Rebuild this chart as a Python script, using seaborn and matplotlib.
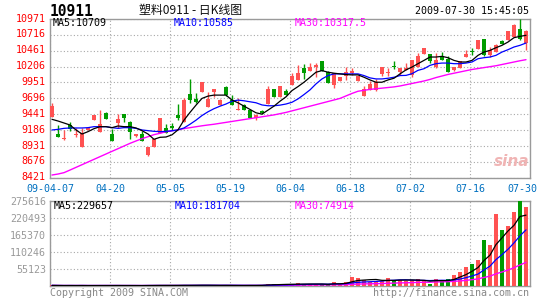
import numpy as np
import pandas as pd
import matplotlib
matplotlib.use("Agg")
import matplotlib.pyplot as plt
import matplotlib.transforms as mtransforms
import seaborn as sns

sns.set_style("white")
plt.rcParams['font.family'] = ['DejaVu Sans Mono', 'DejaVu Sans']

# ---------------- data ----------------
date_labels = ["09-04-07", "04-20", "05-05", "05-19", "06-04", "06-18", "07-02", "07-16", "07-30"]
date_index = [0, 9, 19, 29, 39, 49, 59, 69, 79]

open_ = [9391, 9123, 9048, 9263, 9110, 8909, 9188, 9348, 9161, 9456,
         9123, 9295, 9445, 9316, 9091, 9123, 8786, 8909, 9145, 9220,
         9255, 9432, 9319, 9764, 9684, 9802, 9561, 9796, 9582, 9871,
         9668, 9507, 9587, 9507, 9373, 9485, 9603, 9845, 9711, 9818,
         9917, 9998, 10185, 10142, 10196, 10303, 10116, 9917, 9982, 10062,
         10105, 9982, 9740, 9832, 9832, 10089, 10100, 10210, 10116, 10150,
         10065, 10199, 10414, 10403, 10199, 10371, 10333, 10156, 10188, 10360,
         10440, 10494, 10644, 10387, 10440, 10617, 10639, 10682, 10816, 10585]
high = [9628, 9268, 9188, 9316, 9214, 9214, 9225, 9429, 9509, 9482,
        9198, 9445, 9445, 9340, 9123, 9177, 8909, 9038, 9381, 9284,
        9293, 9603, 9694, 10000, 9786, 9957, 9802, 9839, 9690, 9893,
        9748, 9695, 9598, 9507, 9443, 9507, 9893, 9845, 9893, 9839,
        10100, 10239, 10250, 10266, 10266, 10303, 10142, 10100, 10046, 10196,
        10185, 10051, 9901, 9982, 10008, 10196, 10185, 10292, 10185, 10271,
        10306, 10420, 10510, 10403, 10424, 10440, 10371, 10199, 10296, 10467,
        10510, 10639, 10655, 10521, 10574, 10639, 10778, 10896, 10971, 10790]
low = [9391, 9080, 9027, 9177, 9070, 8909, 9188, 9348, 9161, 9370,
       9016, 9214, 9322, 9038, 9070, 9016, 8775, 8909, 9145, 9134,
       9185, 9346, 9319, 9625, 9614, 9802, 9561, 9711, 9582, 9732,
       9582, 9507, 9507, 9373, 9346, 9443, 9603, 9721, 9711, 9748,
       9917, 9998, 10008, 10142, 10035, 10142, 9939, 9864, 9982, 9992,
       10073, 9982, 9740, 9832, 9821, 10062, 10062, 10169, 10078, 10150,
       10038, 10199, 10414, 10263, 10188, 10306, 10119, 10135, 10188, 10360,
       10387, 10494, 10371, 10360, 10440, 10574, 10639, 10682, 10639, 10467]
close = [9574, 9080, 9058, 9198, 9120, 9145, 9225, 9429, 9284, 9370,
         9016, 9359, 9386, 9161, 9123, 9016, 8909, 9038, 9381, 9134,
         9223, 9378, 9668, 9668, 9630, 9957, 9684, 9839, 9668, 9748,
         9582, 9523, 9507, 9373, 9427, 9453, 9845, 9721, 9893, 9748,
         10062, 10100, 10110, 10196, 10234, 10142, 9939, 10100, 10046, 10126,
         10142, 10051, 9848, 9928, 9955, 10196, 10121, 10205, 10185, 10190,
         10306, 10371, 10510, 10296, 10317, 10306, 10119, 10199, 10296, 10414,
         10435, 10639, 10387, 10478, 10548, 10574, 10778, 10869, 10655, 10778]

ma5 = [9359, 9332, 9300, 9268, 9188, 9123, 9161, 9209, 9241, 9241,
       9225, 9252, 9241, 9241, 9220, 9177, 9123, 9038, 9070, 9075,
       9110, 9190, 9346, 9470, 9587, 9695, 9732, 9748, 9748, 9748,
       9668, 9625, 9571, 9518, 9464, 9443, 9507, 9571, 9650, 9720,
       9821, 9885, 9955, 10035, 10116, 10142, 10116, 10100, 10089, 10078,
       10073, 10073, 10035, 9992, 9955, 9955, 9992, 10019, 10089, 10153,
       10199, 10253, 10306, 10360, 10360, 10371, 10349, 10306, 10280, 10280,
       10306, 10387, 10440, 10467, 10510, 10548, 10601, 10671, 10692, 10709]
ma10 = [9188, 9198, 9214, 9220, 9220, 9220, 9225, 9241, 9241, 9241,
        9225, 9214, 9225, 9225, 9214, 9188, 9177, 9166, 9161, 9165,
        9175, 9190, 9220, 9280, 9345, 9420, 9480, 9530, 9570, 9605,
        9650, 9668, 9657, 9641, 9625, 9590, 9577, 9577, 9587, 9605,
        9633, 9687, 9757, 9832, 9928, 10008, 10062, 10089, 10089, 10089,
        10089, 10089, 10062, 10025, 10008, 10008, 10019, 10035, 10062, 10065,
        10092, 10146, 10172, 10226, 10253, 10263, 10263, 10253, 10253, 10263,
        10280, 10333, 10349, 10360, 10387, 10440, 10478, 10521, 10548, 10585]
ma30 = [8464, 8480, 8502, 8544, 8587, 8630, 8673, 8716, 8759, 8802,
        8845, 8887, 8930, 8973, 9011, 9048, 9080, 9113, 9134, 9160,
        9175, 9190, 9210, 9225, 9240, 9255, 9268, 9280, 9295, 9310,
        9325, 9340, 9355, 9370, 9385, 9400, 9415, 9430, 9450, 9470,
        9495, 9520, 9545, 9570, 9595, 9620, 9645, 9670, 9695, 9735,
        9775, 9810, 9825, 9840, 9850, 9860, 9870, 9880, 9895, 9915,
        9935, 9955, 9975, 10000, 10030, 10055, 10080, 10100, 10120, 10140,
        10160, 10175, 10190, 10205, 10220, 10240, 10260, 10280, 10300, 10317.5]

volume = [3200, 2800, 2500, 3000, 2600, 3400, 2200, 2700, 3100, 2900,
          3300, 2600, 2400, 3000, 2500, 2800, 3600, 3100, 3900, 2700,
          3000, 3500, 4200, 3800, 3300, 4000, 3600, 3100, 2900, 3400,
          3200, 2800, 3000, 3500, 3300, 4500, 8600, 6450, 6450, 6450,
          6450, 10750, 7500, 7500, 6450, 6450, 6450, 14000, 8600, 14000,
          31200, 27950, 20400, 15000, 17200, 17200, 26900, 20400, 20400, 17200,
          19350, 23650, 17200, 8600, 23650, 20400, 23650, 35500, 47300, 63400,
          73100, 84900, 149400, 133300, 234350, 181700, 195650, 240800, 275616, 255850]

price_ticks = [8421, 8676, 8931, 9186, 9441, 9696, 9951, 10206, 10461, 10716, 10971]
vol_ticks = [55123, 110246, 165370, 220493, 275616]

title_code = "10911"
title_name = "塑料0911 - 日K线图"
timestamp = "2009-07-30 15:45:05"
price_legend = ["MA5:10709", "MA10:10585", "MA30:10317.5"]
vol_legend = ["MA5:229657", "MA10:181704", "MA30:74914"]

# ---------------- styling ----------------
RED = "#ff5252"
GREEN = "#009c00"
BLUE = "#0000ff"
MAG = "#ff00ff"
GRID = "#a8a8a8"
FRAME = "#9a9a9a"

W, H = 545, 300
fig = plt.figure(figsize=(W / 100, H / 100), dpi=100)
fig.patch.set_facecolor("white")


def px_axes(x0, y0, x1, y1):
    return fig.add_axes([x0 / W, 1 - y1 / H, (x1 - x0) / W, (y1 - y0) / H])


def ftext(x, y, s, **kw):
    return fig.text(x / W, 1 - y / H, s, **kw)


ax = px_axes(50, 19, 530, 177.7)
axv = px_axes(50, 201, 530, 286.4)

n = len(close)
idx = np.arange(n)
o = np.array(open_, float)
c = np.array(close, float)
hi = np.array(high, float)
lo = np.array(low, float)
up = c >= o
cols = np.where(up, RED, GREEN)

XL, XR = -0.333, 79.667

# ----- price panel -----
ax.vlines(idx, lo, hi, colors=cols, linewidth=1.0, zorder=3)
body_b = np.minimum(o, c)
body_h = np.maximum(np.abs(c - o), 14)
ax.bar(idx, body_h, bottom=body_b, width=0.78, color=cols, linewidth=0, zorder=3)

df = pd.DataFrame({"i": idx, "ma5": ma5, "ma10": ma10, "ma30": ma30})
sns.lineplot(data=df, x="i", y="ma30", color=MAG, linewidth=1.0, ax=ax, zorder=4)
sns.lineplot(data=df, x="i", y="ma10", color=BLUE, linewidth=0.9, ax=ax, zorder=4)
sns.lineplot(data=df, x="i", y="ma5", color="black", linewidth=0.9, ax=ax, zorder=5)

ax.set_xlim(XL, XR)
ax.set_ylim(price_ticks[0], price_ticks[-1])
ax.set_xlabel("")
ax.set_ylabel("")

tick_pos = [XL] + [i + 0.667 for i in date_index[1:-1]] + [XR]
ax.set_xticks(tick_pos)
ax.set_xticklabels(date_labels, color="#0070c0", fontsize=7.2)
ax.set_yticks(price_ticks)
ax.set_yticklabels([str(t) for t in price_ticks], color="#ff0000", fontsize=7.2)
ax.tick_params(axis="both", length=0)
ax.tick_params(axis="x", pad=4.2)
ax.tick_params(axis="y", pad=3)
ax.grid(True, color=GRID, linestyle=(0, (1, 2)), linewidth=0.8)
ax.set_axisbelow(True)
for s in ax.spines.values():
    s.set_color(FRAME)
    s.set_linewidth(1.0)

# shift last x label left, y labels slightly up
lbls = ax.get_xticklabels()
lbls[-1].set_transform(lbls[-1].get_transform() +
                       mtransforms.ScaledTranslation(-8 / 100, 0, fig.dpi_scale_trans))
for lb in ax.get_yticklabels():
    lb.set_transform(lb.get_transform() +
                     mtransforms.ScaledTranslation(0, 1.4 / 100, fig.dpi_scale_trans))

# ----- volume panel -----
vol = np.array(volume, float)
axv.bar(idx, vol, width=0.78, color=cols, linewidth=0, zorder=3)
vdf = pd.DataFrame({"i": idx, "v": vol})
vdf["m5"] = vdf["v"].rolling(5, min_periods=1).mean()
vdf["m10"] = vdf["v"].rolling(10, min_periods=1).mean()
vdf["m30"] = vdf["v"].rolling(30, min_periods=1).mean()
sns.lineplot(data=vdf, x="i", y="m30", color=MAG, linewidth=1.0, ax=axv, zorder=4)
sns.lineplot(data=vdf, x="i", y="m10", color=BLUE, linewidth=0.9, ax=axv, zorder=4)
sns.lineplot(data=vdf, x="i", y="m5", color="black", linewidth=0.9, ax=axv, zorder=5)
axv.set_xlim(XL, XR)
axv.set_ylim(0, vol_ticks[-1])
axv.set_xlabel("")
axv.set_ylabel("")
axv.set_xticks(tick_pos)
axv.set_xticklabels([])
axv.set_yticks(vol_ticks)
axv.set_yticklabels([str(t) for t in vol_ticks], color="#999999", fontsize=7.2)
axv.tick_params(axis="both", length=0)
axv.tick_params(axis="y", pad=3)
axv.grid(True, color=GRID, linestyle=(0, (1, 2)), linewidth=0.8)
axv.set_axisbelow(True)
for s in axv.spines.values():
    s.set_color(FRAME)
    s.set_linewidth(1.0)

# ----- texts -----
ftext(50, 11, title_code, fontsize=10.5, fontweight="bold", color="black",
      va="center", ha="left", family=["DejaVu Sans Mono"])
ftext(139, 10.5, title_name, fontsize=8.6, color="#111111", va="center", ha="left",
      family=["Noto Sans CJK SC", "DejaVu Sans"])
ftext(529, 11, timestamp, fontsize=7.2, color="black", va="center", ha="right")

for s, x, col in zip(price_legend, [53, 174, 295], ["black", BLUE, MAG]):
    ftext(x, 23.5, s, fontsize=7.2, color=col, va="center", ha="left")
for s, x, col in zip(vol_legend, [54, 175, 295], ["black", BLUE, MAG]):
    ftext(x, 206, s, fontsize=7.2, color=col, va="center", ha="left")

ftext(50, 292.5, "Copyright 2009 SINA.COM", fontsize=7.2, color="#888888", va="center", ha="left")
ftext(529, 292.5, "http://finance.sina.com.cn", fontsize=7.2, color="#888888", va="center", ha="right")

# sina watermark
ftext(512, 161, "sina", fontsize=11, fontweight="bold", style="italic", color="#f0b4b4",
      va="center", ha="center", family=["DejaVu Sans"])

fig.savefig("out.png", dpi=100)
